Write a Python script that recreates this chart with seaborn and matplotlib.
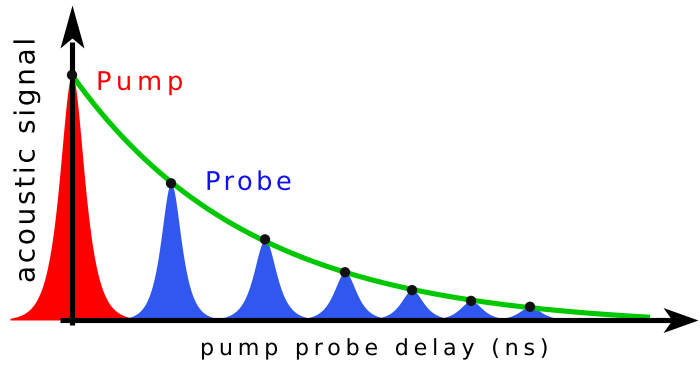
import numpy as np
import pandas as pd
import matplotlib
matplotlib.use("Agg")
import matplotlib.pyplot as plt
from matplotlib.path import Path
from matplotlib.patheffects import AbstractPathEffect
from matplotlib.textpath import text_to_path
from matplotlib.font_manager import FontProperties, findfont, get_font
import seaborn as sns

# Peak positions on the delay axis (ns) and their amplitudes (pump = 1)
pump_delay = 0.0
pump_height = 1.0
pump_width = 0.11
probe_delays = [0.99, 1.93, 2.73, 3.40, 3.99, 4.58]
probe_heights = [0.558, 0.329, 0.195, 0.122, 0.078, 0.054]
probe_widths = [0.09, 0.10, 0.10, 0.10, 0.10, 0.10]

pump_label = "Pump"
probe_label = "Probe"
x_label = "pump probe delay (ns)"
y_label = "acoustic signal"

PUMP_RED = "#ff0000"
PROBE_FILL = "#3057ee"
PROBE_TEXT = "#1010f2"
ENVELOPE_GREEN = "#00c800"
DOT_COLOR = "#111111"

sns.set_theme(style="white")
plt.rcParams["font.family"] = ["DejaVu Sans"]


class LetterSpacing(AbstractPathEffect):
    """Draws a text with extra space (in em) between its characters."""

    def __init__(self, text, size, tracking_em):
        super().__init__()
        prop = FontProperties(family="DejaVu Sans", size=size)
        font = get_font(findfont(prop))
        font.set_size(text_to_path.FONT_SCALE, text_to_path.DPI)
        glyphs, _, _ = text_to_path.get_glyphs_with_font(font, text)
        self._starts = np.array([g[1] for g in glyphs], dtype=float)
        self._shift = tracking_em * text_to_path.FONT_SCALE

    def draw_path(self, renderer, gc, tpath, affine, rgbFace=None):
        verts = np.array(tpath.vertices, dtype=float)
        codes = tpath.codes
        if codes is None or len(self._starts) == 0:
            renderer.draw_path(gc, tpath, affine, rgbFace)
            return
        moves = list(np.flatnonzero(codes == Path.MOVETO)) + [len(codes)]
        for a, b in zip(moves[:-1], moves[1:]):
            keep = codes[a:b] != Path.CLOSEPOLY
            xs = verts[a:b, 0][keep]
            if xs.size == 0:
                continue
            cx = 0.5 * (xs.min() + xs.max())
            idx = max(np.searchsorted(self._starts, cx, side="right") - 1, 0)
            verts[a:b, 0] += idx * self._shift
        renderer.draw_path(gc, Path(verts, codes), affine, rgbFace)


def spaced_text(ax, x, y, s, size, tracking_em, **kw):
    return ax.text(x, y, s, fontsize=size, family="DejaVu Sans",
                   path_effects=[LetterSpacing(s, size, tracking_em)], **kw)


fig = plt.figure(figsize=(7.0, 3.65), dpi=100)
ax = fig.add_axes([0, 0, 1, 1])
ax.set_xlim(-0.72, 6.28)
ax.set_ylim(-0.1837, 1.3061)
ax.set_axis_off()


def sech_peak(t, center, height, width):
    return height / np.cosh((t - center) / width)


t = np.linspace(-0.62, 5.6, 3000)

# pump pulse
ax.fill_between(t, 0, sech_peak(t, pump_delay, pump_height, pump_width),
                color=PUMP_RED, linewidth=0, zorder=1)
# probe echoes
for c, h, w in zip(probe_delays, probe_heights, probe_widths):
    ax.fill_between(t, 0, sech_peak(t, c, h, w),
                    color=PROBE_FILL, linewidth=0, zorder=1.1)

# decay envelope fitted to the peak maxima: (1 + c) * exp(-t / tau) - c
all_t = np.array([pump_delay] + probe_delays)
all_h = np.array([pump_height] + probe_heights)
best = None
for tau in np.linspace(1.2, 2.4, 241):
    for c in np.linspace(0.0, 0.1, 101):
        model = (1 + c) * np.exp(-all_t / tau) - c
        err = np.sum((model - all_h) ** 2)
        if best is None or err < best[0]:
            best = (err, tau, c)
_, tau_fit, c_fit = best
env_t = np.linspace(pump_delay, 5.78, 400)
env = pd.DataFrame({"delay": env_t,
                    "signal": (1 + c_fit) * np.exp(-env_t / tau_fit) - c_fit})
sns.lineplot(data=env, x="delay", y="signal", ax=ax, color=ENVELOPE_GREEN,
             linewidth=3.7, zorder=2.5, solid_capstyle="butt")

# axes drawn as thick arrows
x0, x1 = ax.get_xlim()
y0, y1 = ax.get_ylim()
x_tip = x1 - 0.02
y_tip = y1 - 0.0205
lw = 3.7
ax.plot([-0.12, x_tip - 0.2], [0, 0], color="black", lw=lw,
        solid_capstyle="butt", zorder=3)
ax.plot([0, 0], [-0.02, y_tip - 0.15], color="black", lw=lw,
        solid_capstyle="butt", zorder=3)

# notched arrow heads, tip at the marker origin
L, W, D = 35.0, 12.5, 9.0
head_x = Path([(0, 0), (-L, W), (-L + D, 0), (-L, -W), (0, 0)],
              [Path.MOVETO, Path.LINETO, Path.LINETO, Path.LINETO, Path.CLOSEPOLY])
Ly, Wy, Dy = 43.0, 12.0, 10.0
head_y = Path([(0, 0), (Wy, -Ly), (0, -Ly + Dy), (-Wy, -Ly), (0, 0)],
              [Path.MOVETO, Path.LINETO, Path.LINETO, Path.LINETO, Path.CLOSEPOLY])
ax.plot([x_tip], [0], marker=head_x, markersize=2 * L * 0.72,
        color="black", markeredgewidth=0, zorder=3.2)
ax.plot([0], [y_tip], marker=head_y, markersize=2 * Ly * 0.72,
        color="black", markeredgewidth=0, zorder=3.2)

# peak maxima
dots = pd.DataFrame({"delay": all_t, "signal": all_h})
sns.scatterplot(data=dots, x="delay", y="signal", ax=ax, color=DOT_COLOR,
                s=55, edgecolor="none", zorder=4, legend=False)

# labels (letter-spaced)
spaced_text(ax, 0.24, 0.939, pump_label, 18.5, 0.19, color=PUMP_RED,
            ha="left", va="baseline")
spaced_text(ax, 1.33, 0.531, probe_label, 18.5, 0.135, color=PROBE_TEXT,
            ha="left", va="baseline")
spaced_text(ax, 1.28, -0.143, x_label, 16, 0.215, color="black",
            ha="left", va="baseline")
spaced_text(ax, -0.455, 0.151, y_label, 20, 0.10, color="black",
            rotation=90, ha="center", va="bottom")

fig.savefig("out.png", dpi=100)
